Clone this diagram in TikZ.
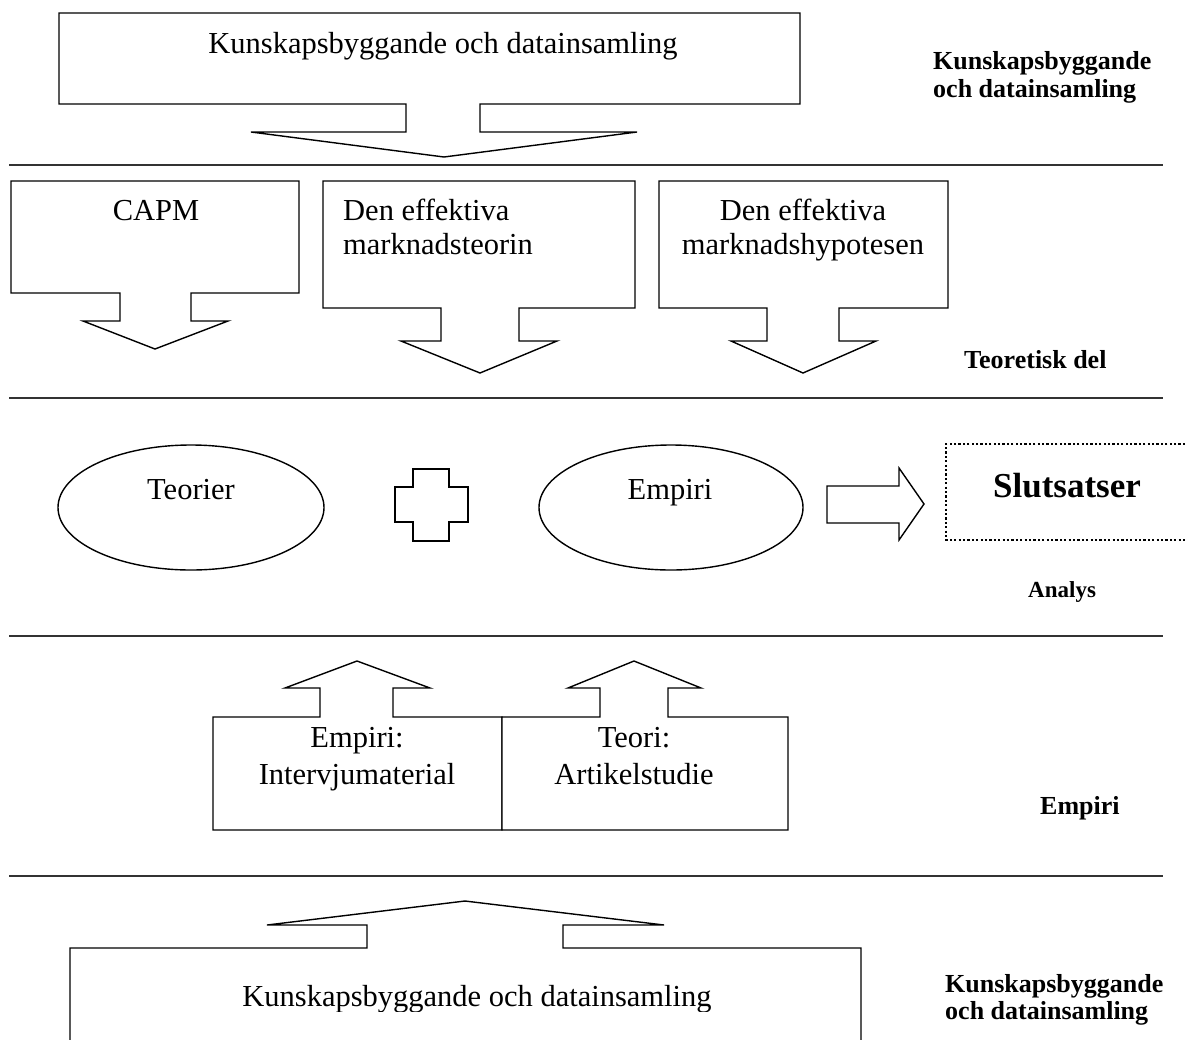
\documentclass[tikz,border=0pt]{standalone}
\usepackage{fontspec}
\setmainfont{Liberation Serif}
\usetikzlibrary{shapes.geometric}
\begin{document}
\begin{tikzpicture}[x=1pt,y=-1pt,
  shp/.style={draw=black,line width=1.4pt,line join=miter,fill=white},
  sep/.style={draw=black!80,line width=1.5pt},
  txt/.style={font=\fontsize{30.5}{36}\selectfont,inner sep=0pt,anchor=base},
  txtw/.style={font=\fontsize{30.5}{36}\selectfont,inner sep=0pt,anchor=base west},
  lbl/.style={font=\fontsize{26}{30}\selectfont\bfseries,inner sep=0pt,anchor=base west},
  dotbox/.style={draw=black,line width=2.2pt,dash pattern=on 2.2pt off 2.2pt}]
\path[use as bounding box] (0,0) rectangle (1185,1039);
\fill[white] (0,0) rectangle (1185,1039);

% separator lines
\coordinate (s1a) at (9,165);  \coordinate (s1b) at (1163,165);
\coordinate (s2a) at (9,398);  \coordinate (s2b) at (1163,398);
\coordinate (s3a) at (9,636);  \coordinate (s3b) at (1163,636);
\coordinate (s4a) at (9,876);  \coordinate (s4b) at (1163,876);
\draw[sep] (s1a) -- (s1b);
\draw[sep] (s2a) -- (s2b);
\draw[sep] (s3a) -- (s3b);
\draw[sep] (s4a) -- (s4b);

% top callout
\draw[shp] (59,13) -- (800,13) -- (800,104) -- (480,104) -- (480,132) -- (637,132)
  -- (444,157) -- (251,132) -- (406,132) -- (406,104) -- (59,104) -- cycle;
\node[txt] (top) at (443,53) {Kunskapsbyggande och datainsamling};

% theory callouts
\draw[shp] (11,181) -- (299,181) -- (299,293) -- (191,293) -- (191,321) -- (228,321)
  -- (155,349) -- (83,321) -- (120,321) -- (120,293) -- (11,293) -- cycle;
\node[txt] (capm) at (156,220) {CAPM};

\draw[shp] (323,181) -- (635,181) -- (635,308) -- (519,308) -- (519,341) -- (557,341)
  -- (480,373) -- (401,341) -- (441,341) -- (441,308) -- (323,308) -- cycle;
\node[txtw] (emt1) at (343,220) {Den effektiva};
\node[txtw] (emt2) at (343,254) {marknadsteorin};

\draw[shp] (659,181) -- (948,181) -- (948,308) -- (839,308) -- (839,341) -- (876,341)
  -- (803,373) -- (731,341) -- (767,341) -- (767,308) -- (659,308) -- cycle;
\node[txt] (emh1) at (803,220) {Den effektiva};
\node[txt] (emh2) at (803,254) {marknadshypotesen};

% right labels
\node[lbl] (lk1) at (933,69) {Kunskapsbyggande};
\node[lbl] (lk2) at (933,97) {och datainsamling};
\node[lbl] (lteo) at (964,368) {Teoretisk del};

% analysis row
\node[draw=black,line width=1.4pt,ellipse,minimum width=266pt,minimum height=125pt,inner sep=0pt] (teorierE) at (191,507.5) {};
\node[txt] (teorier) at (191,499) {Teorier};
\draw[shp] (413,469) -- (449,469) -- (449,487) -- (468,487) -- (468,522) -- (449,522)
  -- (449,541) -- (413,541) -- (413,522) -- (395,522) -- (395,487) -- (413,487) -- cycle;
\node[draw=black,line width=1.4pt,ellipse,minimum width=264pt,minimum height=125pt,inner sep=0pt] (empiriE) at (671,507.5) {};
\node[txt] (empiri) at (670,499) {Empiri};
\draw[shp] (827,486) -- (899,486) -- (899,468) -- (924,504) -- (899,540) -- (899,523)
  -- (827,523) -- cycle;
\coordinate (sl1) at (1185,444);
\coordinate (sl2) at (946,444);
\coordinate (sl3) at (946,540);
\coordinate (sl4) at (1185,540);
\draw[dotbox] (sl1) -- (sl2) -- (sl3) -- (sl4);
\node[txt,font=\fontsize{35}{40}\selectfont\bfseries] (slut) at (1067,497) {Slutsatser};
\node[lbl,font=\fontsize{23}{28}\selectfont\bfseries] (analys) at (1028,597) {Analys};

% empiri row
\draw[shp] (213,717) -- (320,717) -- (320,688) -- (285,688) -- (357,661) -- (430,688)
  -- (393,688) -- (393,717) -- (502,717) -- (502,830) -- (213,830) -- cycle;
\draw[shp] (502,717) -- (600,717) -- (600,688) -- (568,688) -- (634,661) -- (701,688)
  -- (668,688) -- (668,717) -- (788,717) -- (788,830) -- (502,830) -- cycle;
\node[txt] (e1) at (357,747) {Empiri:};
\node[txt] (e2) at (357,784) {Intervjumaterial};
\node[txt] (t1) at (634,747) {Teori:};
\node[txt] (t2) at (634,784) {Artikelstudie};
\node[lbl] (lemp) at (1040,814) {Empiri};

% bottom callout
\draw[shp] (70,1050) -- (70,948) -- (367,948) -- (367,925) -- (267,925) -- (465,901)
  -- (664,925) -- (563,925) -- (563,948) -- (861,948) -- (861,1050);
\begin{scope}
\clip (0,0) rectangle (1185,1011);
\node[txt] (bot) at (477,1006) {Kunskapsbyggande och datainsamling};
\end{scope}
\node[lbl] (lb1) at (945,992) {Kunskapsbyggande};
\node[lbl] (lb2) at (945,1019) {och datainsamling};
\end{tikzpicture}
\end{document}
